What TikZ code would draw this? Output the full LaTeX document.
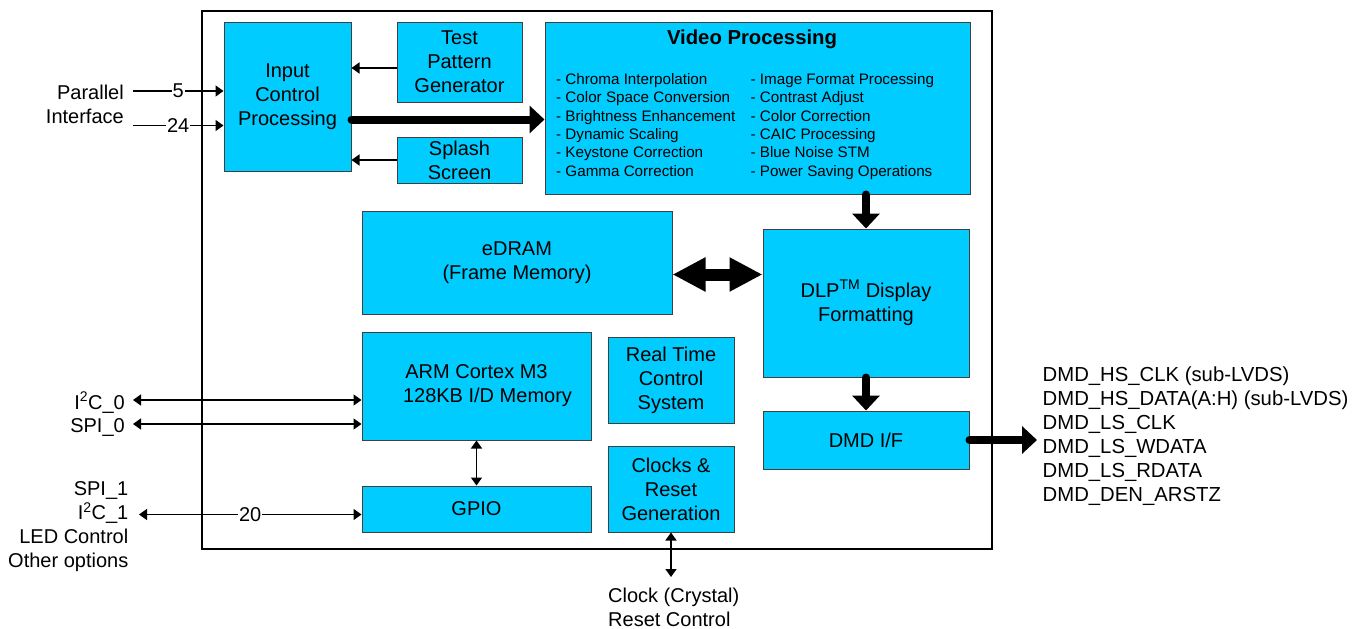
\documentclass[tikz,border=0pt]{standalone}
\usepackage{fontspec}
\setmainfont{Liberation Sans}
\usetikzlibrary{arrows.meta}
\definecolor{tiblue}{RGB}{0,204,255}
\tikzset{
  blk/.style={draw=black!75, line width=1pt, fill=tiblue, align=center, inner sep=0pt},
  sig/.style={line width=1.5pt, -{Triangle[length=8pt,width=11pt]}},
  sigboth/.style={line width=1.5pt, {Triangle[length=8pt,width=11pt]}-{Triangle[length=8pt,width=11pt]}},
  bus/.style={line width=8pt, line cap=round, -{Triangle[length=15pt,width=27pt]}},
  wirelbl/.style={fill=white, inner sep=1pt},
  txt/.style={inner sep=0pt}
}

\begin{document}
\begin{tikzpicture}[x=1pt, y=-1pt, font=\fontsize{20}{24}\selectfont]
  \useasboundingbox (0,0) rectangle (1366,629);
  \draw[line width=2pt] (202,11) rectangle (992,549);

  % blocks
  \node[blk, minimum width=127pt, minimum height=149pt] (inp) at (287.5,96.5) {Input\\Control\\Processing};
  \node[blk, minimum width=125pt, minimum height=80pt] (tpg) at (459.5,62) {Test\\Pattern\\Generator};
  \node[blk, minimum width=125pt, minimum height=46pt] (spl) at (459.5,160) {Splash\\Screen};
  \node[blk, minimum width=425pt, minimum height=172pt] (vid) at (757.5,108) {};
  \node[blk, minimum width=310pt, minimum height=103pt] (edram) at (517,262.5) {eDRAM\\(Frame Memory)};
  \node[blk, minimum width=206pt, minimum height=148pt] (dlp) at (866,303) {DLP\textsuperscript{TM} Display\\Formatting};
  \node[blk, minimum width=206pt, minimum height=58pt] (dmd) at (866,440) {DMD I/F};
  \node[blk, minimum width=229pt, minimum height=108pt] (arm) at (476.5,386) {ARM Cortex M3\\\hspace*{22pt}128KB I/D Memory};
  \node[blk, minimum width=229pt, minimum height=46pt] (gpio) at (476.5,509) {GPIO};
  \node[blk, minimum width=126pt, minimum height=86pt] (rtc) at (671,380) {Real Time\\Control\\System};
  \node[blk, minimum width=126pt, minimum height=86pt] (clk) at (671,489) {Clocks \&\\Reset\\Generation};

  % video processing contents
  \node[txt, font=\bfseries\fontsize{20.3}{24}\selectfont] (vidtitle) at (752,39) {Video Processing};
  \node[txt, anchor=north west, align=left, font=\fontsize{15.2}{18.3}\selectfont] (vidleft) at (556,73.3)
    {- Chroma Interpolation\\- Color Space Conversion\\- Brightness Enhancement\\- Dynamic Scaling\\- Keystone Correction\\- Gamma Correction};
  \node[txt, anchor=north west, align=left, font=\fontsize{15.2}{18.3}\selectfont] (vidright) at (750.5,73.3)
    {- Image Format Processing\\- Contrast Adjust\\- Color Correction\\- CAIC Processing\\- Blue Noise STM\\- Power Saving Operations};

  % outside labels
  \node[txt, anchor=north east, align=right] (parlbl) at (124,85) {Parallel\\Interface};
  \node[txt, anchor=base east] (i2c0lbl) at (125,409) {I\textsuperscript{2}C\_0};
  \node[txt, anchor=base east] (spi0lbl) at (125,432) {SPI\_0};
  \node[txt, anchor=north east, align=right] (gplbl) at (128.5,481.5) {SPI\_1\\I\textsuperscript{2}C\_1\\LED Control\\Other options};
  \node[txt, anchor=north west, align=left, font=\fontsize{20.3}{24}\selectfont] (dmdlbl) at (1042.5,366.5)
    {DMD\_HS\_CLK (sub-LVDS)\\DMD\_HS\_DATA(A:H) (sub-LVDS)\\DMD\_LS\_CLK\\DMD\_LS\_WDATA\\DMD\_LS\_RDATA\\DMD\_DEN\_ARSTZ};
  \node[txt, anchor=north west, align=left] (clklbl) at (608,587.5) {Clock (Crystal)\\Reset Control};

  % free ends
  \coordinate (par5) at (133,91);
  \coordinate (par24) at (133,125.5);
  \coordinate (i2c0) at (133,400);
  \coordinate (spi0) at (133,424);
  \coordinate (gp) at (139,514.5);
  \coordinate (clkio) at (671,577);
  \coordinate (dmdout) at (1037,440);

  % connectors
  \draw[sig] (par5) -- node[wirelbl] {5} (par5 -| inp.west);
  \draw[sig] (par24) -- node[wirelbl] {24} (par24 -| inp.west);
  \draw[sig] (tpg.west |- 0,68) -- (inp.east |- 0,68);
  \draw[sig] (spl.west) -- (spl.west -| inp.east);
  \draw[bus] (inp.east |- 0,119.5) -- (vid.west |- 0,119.5);
  \draw[bus] (vid.south -| dlp.north) -- (dlp.north);
  \draw[line width=12pt, {Triangle[length=33pt,width=32pt]}-{Triangle[length=33pt,width=32pt]}]
    (edram.east |- 0,274.5) -- (dlp.west |- 0,274.5);
  \draw[bus] (dlp.south) -- (dmd.north);
  \draw[bus] (dmd.east) -- (dmdout);
  \draw[sigboth] (arm.south) -- (gpio.north);
  \draw[sigboth] (i2c0) -- (i2c0 -| arm.west);
  \draw[sigboth] (spi0) -- (spi0 -| arm.west);
  \draw[sigboth] (gp) -- node[wirelbl] {20} (gp -| gpio.west);
  \draw[sigboth] (clk.south) -- (clkio);
\end{tikzpicture}
\end{document}
